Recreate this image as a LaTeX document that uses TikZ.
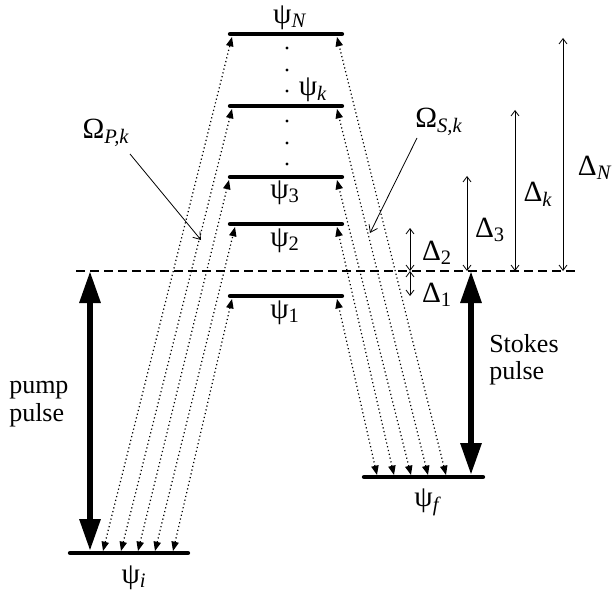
\documentclass[tikz,border=0pt]{standalone}
\usepackage{fontspec}
\setmainfont{Liberation Serif}
\usetikzlibrary{arrows.meta}
\newcommand{\lsub}[1]{\textsubscript{\textit{#1}}}
\tikzset{
  level/.style={line width=3.2pt, line cap=round},
  coupling/.style={dotted, line width=0.9pt, {Triangle[length=7pt,width=5.5pt]}-{Triangle[length=7pt,width=5.5pt]}},
  pulse/.style={line width=4.5pt, {Triangle[length=24pt,width=15pt]}-{Triangle[length=24pt,width=15pt]}},
  detuning/.style={line width=0.6pt, {Straight Barb[length=4pt,width=6pt]}-{Straight Barb[length=4pt,width=6pt]}},
  pointer/.style={line width=0.6pt, -{Straight Barb[length=5pt,width=7pt]}},
  sym/.style={inner sep=0.75pt, font=\fontsize{22}{24}\selectfont},
  txt/.style={inner sep=0.75pt, align=left, font=\fontsize{19.5}{20.5}\selectfont},
}

\begin{document}
\begin{tikzpicture}[x=0.75pt,y=0.75pt,yscale=-1,xscale=1]
\useasboundingbox (0,0) rectangle (613,595);

%Levels
\draw [level] (230,34) coordinate (NL) -- (342,34) coordinate (NR) ;
\draw [level] (230,106) coordinate (kL) -- (342,106) coordinate (kR) ;
\draw [level] (230,177) coordinate (3L) -- (342,177) coordinate (3R) ;
\draw [level] (230,224) coordinate (2L) -- (342,224) coordinate (2R) ;
\draw [level] (230,296) coordinate (1L) -- (342,296) coordinate (1R) ;
\draw [level] (70,553) coordinate (iL) -- (188,553) coordinate (iR) ;
\draw [level] (364,477) coordinate (fL) -- (483,477) coordinate (fR) ;
%Dashed line
\draw [line width=1.5pt, dash pattern=on 7pt off 3.5pt] (76,271) coordinate (zL) -- (576,271) coordinate (zR) ;
%Dots
\fill (287,48) circle (1.6) (287,70) circle (1.6) (287,91) circle (1.6) (287,121) circle (1.6) (287,143) circle (1.6) (287,164) circle (1.6) ;

%Pump couplings
\coordinate (pN) at (232,37) ; \coordinate (pk) at (232,109) ; \coordinate (p3) at (229,180) ; \coordinate (p2) at (235,227) ; \coordinate (p1) at (232,299) ;
\coordinate (iN) at (103,551) ; \coordinate (ik) at (121,551) ; \coordinate (i3) at (138,551) ; \coordinate (i2) at (155,551) ; \coordinate (i1) at (173,551) ;
\draw [coupling] (iN) -- (pN) ;
\draw [coupling] (ik) -- (pk) ;
\draw [coupling] (i3) -- (p3) ;
\draw [coupling] (i2) -- (p2) ;
\draw [coupling] (i1) -- (p1) ;
%Stokes couplings
\coordinate (sN) at (337,37) ; \coordinate (sk) at (337,109) ; \coordinate (s3) at (337,180) ; \coordinate (s2) at (337,227) ; \coordinate (s1) at (337,299) ;
\coordinate (fN) at (446,475) ; \coordinate (fk) at (428,475) ; \coordinate (f3) at (411,475) ; \coordinate (f2) at (394,475) ; \coordinate (f1) at (377,475) ;
\draw [coupling] (fN) -- (sN) ;
\draw [coupling] (fk) -- (sk) ;
\draw [coupling] (f3) -- (s3) ;
\draw [coupling] (f2) -- (s2) ;
\draw [coupling] (f1) -- (s1) ;

%Pulses
\coordinate (pumpTop) at (90,271) ; \coordinate (pumpBot) at (90,551) ;
\coordinate (stokesTop) at (471,271) ; \coordinate (stokesBot) at (471,475) ;
\draw [pulse] (pumpBot) -- (pumpTop) ;
\draw [pulse] (stokesBot) -- (stokesTop) ;

%Detunings
\coordinate (d0a) at (410,271) ; \coordinate (d1) at (410,296) ; \coordinate (d2) at (410,228) ;
\coordinate (d0b) at (467,271) ; \coordinate (d3) at (467,176) ;
\coordinate (d0c) at (515,271) ; \coordinate (dk) at (515,110) ;
\coordinate (d0d) at (563,271) ; \coordinate (dN) at (563,38) ;
\draw [detuning] (d0a) -- (d1) ;
\draw [detuning] (d0a) -- (d2) ;
\draw [detuning] (d0b) -- (d3) ;
\draw [detuning] (d0c) -- (dk) ;
\draw [detuning] (d0d) -- (dN) ;

% Text Node
\node [sym] (lN) at (290,18) {ψ\lsub{N}};
\node [sym] (lk) at (313,90) {ψ\lsub{k}};
\node [sym] (l3) at (285,193) {ψ\textsubscript{3}};
\node [sym] (l2) at (285,241) {ψ\textsubscript{2}};
\node [sym] (l1) at (285,313) {ψ\textsubscript{1}};
\node [sym] (li) at (134,578) {ψ\lsub{i}};
\node [sym] (lf) at (428,502) {ψ\lsub{f}};
% Text Node
\node [sym] (OmP) at (106,133) {Ω\lsub{P,k}};
\node [sym] (OmS) at (439,122) {Ω\lsub{S,k}};
\coordinate (OmPfoot) at (130,154) ; \coordinate (OmPtip) at (201,240) ;
\coordinate (OmSfoot) at (417,138) ; \coordinate (OmStip) at (370,233) ;
\draw [pointer] (OmPfoot) -- (OmPtip) ;
\draw [pointer] (OmSfoot) -- (OmStip) ;
% Text Node
\node [sym] (D1) at (437,295) {Δ\textsubscript{1}};
\node [sym] (D2) at (437,253) {Δ\textsubscript{2}};
\node [sym] (D3) at (490,230) {Δ\textsubscript{3}};
\node [sym] (Dk) at (538,194) {Δ\lsub{k}};
\node [sym] (DN) at (595,168) {Δ\lsub{N}};
% Text Node
\node [txt, anchor=west] (pumpTxt) at (8,404) {pump\\pulse};
\node [txt, anchor=west] (stokesTxt) at (488,360) {Stokes\\pulse};

\end{tikzpicture}
\end{document}
